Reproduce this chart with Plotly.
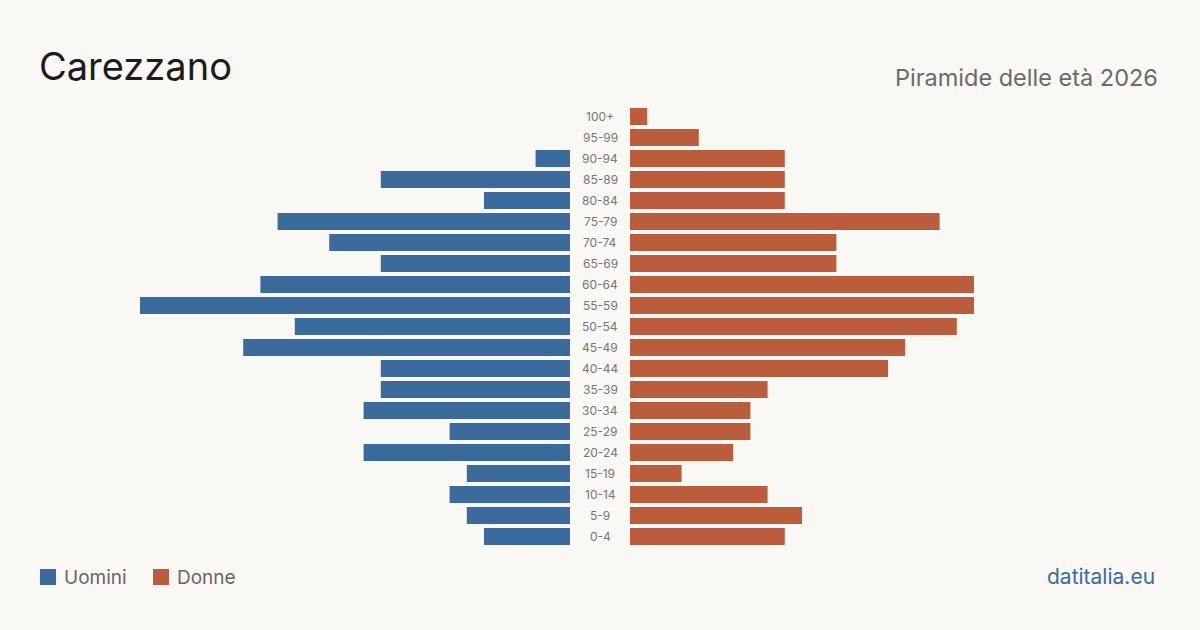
import plotly.graph_objects as go

ages = ["0-4", "5-9", "10-14", "15-19", "20-24", "25-29", "30-34", "35-39", "40-44",
        "45-49", "50-54", "55-59", "60-64", "65-69", "70-74", "75-79", "80-84",
        "85-89", "90-94", "95-99", "100+"]
men = [5, 6, 7, 6, 12, 7, 12, 11, 11, 19, 16, 25, 18, 11, 14, 17, 5, 11, 2, 0, 0]
women = [9, 10, 8, 3, 6, 7, 7, 8, 15, 16, 19, 20, 20, 12, 12, 18, 9, 9, 9, 4, 1]

BLUE = "#3b6b9c"
ORANGE = "#b95d3c"
BG = "#f9f8f4"
FONT = "Inter"

W, H = 1200, 630
L0, L1 = 40, 570
R0, R1 = 630, 1160
PX_PER_UNIT = 17.2
RMAX = (L1 - L0) / PX_PER_UNIT

fig = go.Figure()
fig.add_trace(go.Bar(y=ages, x=men, orientation="h", marker=dict(color=BLUE, line=dict(width=0)),
                     name="Uomini", xaxis="x", yaxis="y", showlegend=False,
                     hovertemplate="%{y}: %{x}<extra>Uomini</extra>"))
fig.add_trace(go.Bar(y=ages, x=women, orientation="h", marker=dict(color=ORANGE, line=dict(width=0)),
                     name="Donne", xaxis="x2", yaxis="y", showlegend=False,
                     hovertemplate="%{y}: %{x}<extra>Donne</extra>"))

annotations = []
for a in ages:
    annotations.append(dict(x=0.5, xref="paper", y=a, yref="y", text=a, showarrow=False,
                            font=dict(family=FONT, size=12, color="#767676"),
                            xanchor="center", yanchor="middle"))

annotations += [
    dict(x=37 / W, xref="paper", y=1 - 66 / H, yref="paper", text="Carezzano", showarrow=False,
         xanchor="left", yanchor="middle", font=dict(family=FONT, size=38, color="#1c1c1c")),
    dict(x=1160 / W, xref="paper", y=1 - 77 / H, yref="paper", text="Piramide delle età 2026",
         showarrow=False, xanchor="right", yanchor="middle",
         font=dict(family=FONT, size=23.5, color="#6a6a6a")),
    dict(x=62 / W, xref="paper", y=1 - 577 / H, yref="paper", text="Uomini", showarrow=False,
         xanchor="left", yanchor="middle", font=dict(family=FONT, size=19, color="#666666")),
    dict(x=175 / W, xref="paper", y=1 - 577 / H, yref="paper", text="Donne", showarrow=False,
         xanchor="left", yanchor="middle", font=dict(family=FONT, size=19, color="#666666")),
    dict(x=1157 / W, xref="paper", y=1 - 576 / H, yref="paper", text="datitalia.eu", showarrow=False,
         xanchor="right", yanchor="middle", font=dict(family=FONT, size=21, color=BLUE)),
]

shapes = [
    dict(type="rect", xref="paper", yref="paper", x0=40 / W, x1=56 / W,
         y0=1 - 585 / H, y1=1 - 569 / H, fillcolor=BLUE, line_width=0),
    dict(type="rect", xref="paper", yref="paper", x0=153 / W, x1=169 / W,
         y0=1 - 585 / H, y1=1 - 569 / H, fillcolor=ORANGE, line_width=0),
]

TOP, BOT = 106, 547
fig.update_layout(
    width=W, height=H,
    margin=dict(l=0, r=0, t=0, b=0),
    paper_bgcolor=BG, plot_bgcolor=BG,
    bargap=0.19,
    xaxis=dict(domain=[L0 / W, L1 / W], range=[RMAX, 0], visible=False, fixedrange=True),
    xaxis2=dict(domain=[R0 / W, R1 / W], range=[0, RMAX], visible=False, fixedrange=True),
    yaxis=dict(domain=[1 - BOT / H, 1 - TOP / H], range=[-0.5, 20.5], visible=False,
               categoryorder="array", categoryarray=ages, fixedrange=True),
    annotations=annotations,
    shapes=shapes,
    font=dict(family=FONT),
)

fig.write_html("out.html", config={"displayModeBar": False})
